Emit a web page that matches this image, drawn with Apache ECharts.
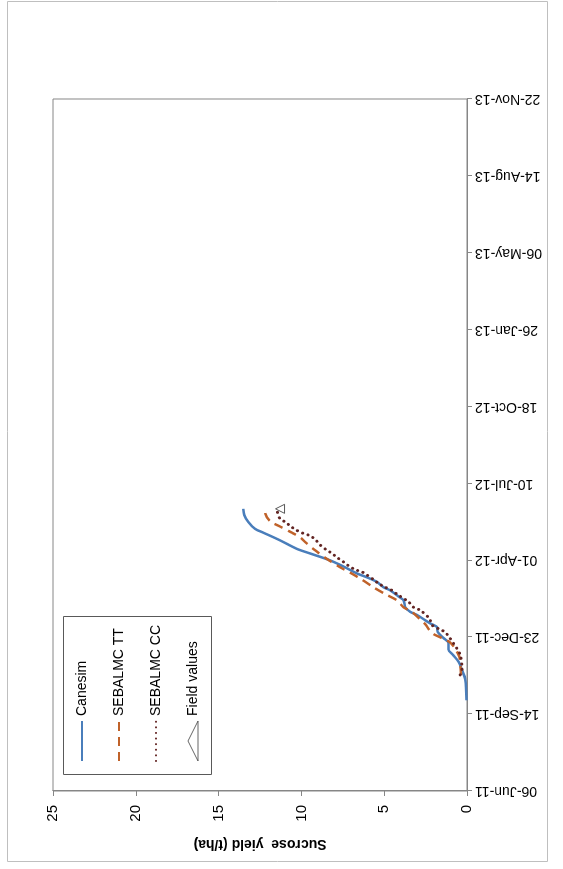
<!DOCTYPE html>
<html>
<head>
<meta charset="utf-8">
<script src="https://cdn.jsdelivr.net/npm/echarts@6/dist/echarts.min.js"></script>
<style>
html, body { margin: 0; padding: 0; overflow: hidden; background: #fff; width: 563px; height: 869px; }
#wrap { position: absolute; left: 0; top: 0; width: 869px; height: 563px; transform-origin: 0 0; transform: translateY(869px) rotate(-90deg); }
#chart { width: 869px; height: 563px; }
</style>
</head>
<body>
<div id="wrap"><div id="chart"></div></div>
<script>
// Dates are Excel serial day numbers (06-Jun-11 = 40700)
const dateTicksMin = 40700;
const dateTicksMax = 41600;
const dateTickStep = 100;
const yieldTicks = [0, 5, 10, 15, 20, 25];

const seriesNames = ['Canesim', 'SEBALMC TT', 'SEBALMC CC', 'Field values'];

const canesimDates = [40818, 40845, 40857, 40868, 40877, 40884, 40892, 40899, 40907, 40913, 40918, 40922, 40929, 40933, 40939, 40948, 40953, 40961, 40965, 40972, 40978, 40983, 40992, 41000, 41009, 41015, 41026, 41036, 41041, 41050, 41059, 41067];
const canesimValues = [0.03, 0.10, 0.30, 0.51, 0.85, 1.11, 1.11, 1.42, 1.78, 1.81, 2.22, 2.52, 3.02, 3.43, 3.73, 3.83, 4.14, 4.64, 5.04, 5.44, 6.05, 6.65, 7.46, 8.27, 9.48, 10.28, 11.29, 12.30, 12.80, 13.21, 13.45, 13.51];

const ttDates = [40851, 40861, 40874, 40883, 40893, 40898, 40904, 40909, 40917, 40923, 40933, 40939, 40948, 40955, 40965, 40975, 40984, 40991, 41002, 41013, 41024, 41030, 41036, 41044, 41051, 41061, 41068];
const ttValues = [0.36, 0.39, 0.45, 0.65, 1.01, 1.42, 2.02, 2.26, 2.52, 2.82, 3.33, 3.83, 4.23, 4.84, 5.65, 6.35, 7.06, 7.66, 8.47, 9.17, 9.78, 10.08, 10.58, 11.29, 11.90, 12.18, 12.20];

const ccDates = [40851, 40859, 40877, 40885, 40893, 40900, 40907, 40911, 40916, 40924, 40935, 40939, 40946, 40956, 40961, 40965, 40970, 40975, 40981, 40985, 40988, 40993, 40998, 41004, 41009, 41014, 41020, 41026, 41032, 41035, 41039, 41044, 41050, 41054, 41063];
const ccValues = [0.41, 0.30, 0.41, 0.60, 0.85, 1.07, 1.35, 1.72, 2.12, 2.26, 2.82, 3.23, 3.53, 4.23, 4.54, 4.94, 5.35, 5.65, 6.05, 6.35, 6.76, 7.16, 7.46, 7.86, 8.16, 8.51, 8.87, 9.11, 9.48, 9.88, 10.28, 10.63, 10.99, 11.29, 11.45];

const fieldDates = [41067];
const fieldValues = [11.29];

const MONTHS = ['Jan','Feb','Mar','Apr','May','Jun','Jul','Aug','Sep','Oct','Nov','Dec'];
function fmtSerial(s) {
  const d = new Date(Date.UTC(1899, 11, 30) + Math.round(s) * 86400000);
  const dd = String(d.getUTCDate()).padStart(2, '0');
  const yy = String(d.getUTCFullYear() % 100).padStart(2, '0');
  return dd + '-' + MONTHS[d.getUTCMonth()] + '-' + yy;
}
function pairs(xs, ys) { return xs.map((x, i) => [x, ys[i]]); }

const FONT = "'Liberation Sans', Arial, sans-serif";
const chart = echarts.init(document.getElementById('chart'), null, { width: 869, height: 563 });
chart.setOption({
  animation: false,
  backgroundColor: '#fff',
  grid: { left: 78, top: 53, width: 692, height: 414, show: true, borderColor: '#868686', borderWidth: 1, backgroundColor: 'transparent' },
  xAxis: {
    type: 'value', min: dateTicksMin, max: dateTicksMax, interval: dateTickStep,
    axisLine: { show: true, lineStyle: { color: '#868686', width: 1 } },
    axisTick: { show: true, length: 5, lineStyle: { color: '#868686' } },
    splitLine: { show: false },
    axisLabel: { rotate: 90, margin: 8, fontSize: 14, color: '#000', fontFamily: FONT, formatter: v => fmtSerial(v) }
  },
  yAxis: {
    type: 'value', min: yieldTicks[0], max: yieldTicks[yieldTicks.length - 1], interval: yieldTicks[1] - yieldTicks[0],
    name: 'Sucrose  yield (t/ha)', nameLocation: 'middle', nameRotate: 90, nameGap: 46,
    nameTextStyle: { fontSize: 14, fontWeight: 'bold', color: '#000', fontFamily: FONT },
    axisLine: { show: true, lineStyle: { color: '#868686', width: 1 } },
    axisTick: { show: true, length: 5, lineStyle: { color: '#868686' } },
    splitLine: { show: false },
    axisLabel: { margin: 14, fontSize: 15, color: '#000', fontFamily: FONT }
  },
  legend: {
    orient: 'vertical', left: 107, top: 75, padding: 0, itemWidth: 40, itemHeight: 10, itemGap: 23,
    textStyle: { fontSize: 14, color: '#000', fontFamily: FONT, lineHeight: 14 },
    data: [
      { name: seriesNames[0], itemStyle: { opacity: 0 } },
      { name: seriesNames[1], itemStyle: { opacity: 0 } },
      { name: seriesNames[2], itemStyle: { opacity: 0 } },
      { name: seriesNames[3], itemStyle: { color: '#fff', borderColor: '#404040', borderWidth: 1 } }
    ]
  },
  graphic: [
    { type: 'rect', z: -10, shape: { x: 7.5, y: 7.5, width: 860, height: 540 }, style: { fill: 'none', stroke: '#bfbfbf', lineWidth: 1 } },
    { type: 'rect', z: 0, shape: { x: 94.5, y: 63.5, width: 158, height: 148 }, style: { fill: '#fff', stroke: '#595959', lineWidth: 1 } }
  ],
  series: [
    { name: seriesNames[0], type: 'line', data: pairs(canesimDates, canesimValues), symbol: 'none', smooth: 0.3,
      lineStyle: { color: '#4a7ebb', width: 2.5 }, itemStyle: { color: '#4a7ebb' }, z: 3 },
    { name: seriesNames[1], type: 'line', data: pairs(ttDates, ttValues), symbol: 'none', smooth: 0.3,
      lineStyle: { color: '#c0622a', width: 2.5, type: [9, 6] }, itemStyle: { color: '#c0622a' }, z: 4 },
    { name: seriesNames[2], type: 'line', data: pairs(ccDates, ccValues), symbol: 'none', smooth: 0.3,
      lineStyle: { color: '#632523', width: 3, type: [0.1, 5.5], cap: 'round' }, itemStyle: { color: '#632523' }, z: 5 },
    { name: seriesNames[3], type: 'scatter', data: pairs(fieldDates, fieldValues), symbol: 'triangle', symbolSize: 9,
      itemStyle: { color: '#fff', borderColor: '#303030', borderWidth: 1 }, z: 6 }
  ]
});
</script>
</body>
</html>
